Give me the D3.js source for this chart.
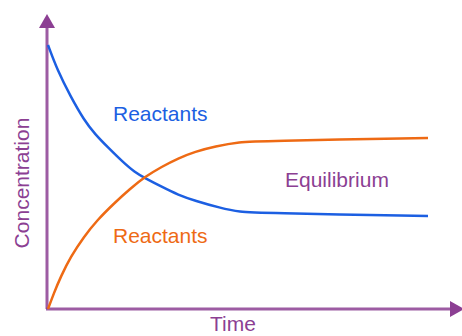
<!DOCTYPE html>
<html>
<head>
<meta charset="utf-8">
<script src="https://cdn.jsdelivr.net/npm/d3@7"></script>
<style>
  body { margin: 0; background: #fff; }
  text { font-family: "Liberation Sans", Arial, Helvetica, sans-serif; }
</style>
</head>
<body>
<div id="chart"></div>
<script>
// Values (time 0..10, concentration 0..1)
const reactantTime = [0, 0.245, 0.597, 0.947, 1.237, 1.587, 1.939, 2.289, 2.553, 2.992, 3.429, 3.868, 4.526, 5.053, 5.579, 10];
const reactantConc = [1.0, 0.905, 0.804, 0.716, 0.662, 0.611, 0.561, 0.517, 0.496, 0.463, 0.432, 0.410, 0.383, 0.367, 0.364, 0.352];
const productTime  = [0, 0.158, 0.334, 0.597, 0.947, 1.297, 1.737, 2.158, 2.553, 2.992, 3.429, 3.868, 4.395, 5.053, 5.579, 10];
const productConc  = [0, 0.061, 0.122, 0.198, 0.274, 0.337, 0.400, 0.455, 0.501, 0.539, 0.571, 0.596, 0.616, 0.633, 0.636, 0.648];
const labels = ["Reactants", "Reactants", "Equilibrium"];

const width = 462;
const height = 336;

const purple = "#8c3f93";
const blue = "#1c5fe2";
const orange = "#ee6a14";

const svg = d3.select("#chart")
              .append("svg")
              .attr("width", width)
              .attr("height", height);

const x = d3.scaleLinear().domain([0, 10]).range([48, 428]);
const y = d3.scaleLinear().domain([0, 1]).range([309, 45]);

// Axes with arrow heads
const axisX0 = x(0) - 1, axisY0 = y(0);
const xEnd = 450, yEnd = 28;

svg.append("line")
   .attr("x1", axisX0).attr("y1", axisY0)
   .attr("x2", axisX0).attr("y2", yEnd)
   .attr("stroke", purple).attr("stroke-opacity", 0.85).attr("stroke-width", 3);

svg.append("line")
   .attr("x1", axisX0 - 1).attr("y1", axisY0)
   .attr("x2", xEnd).attr("y2", axisY0)
   .attr("stroke", purple).attr("stroke-opacity", 0.85).attr("stroke-width", 3);

svg.append("path")
   .attr("d", `M${axisX0 - 8},${yEnd} L${axisX0 + 8},${yEnd} L${axisX0},${yEnd - 14} Z`)
   .attr("fill", purple);

svg.append("path")
   .attr("d", `M${xEnd},${axisY0 - 8} L${xEnd},${axisY0 + 8} L${xEnd + 14},${axisY0} Z`)
   .attr("fill", purple);

// Curves (basis spline smooths out reading noise)
const line = d3.line()
               .x(d => x(d[0]))
               .y(d => y(d[1]))
               .curve(d3.curveBasis);

svg.append("path")
   .datum(d3.zip(reactantTime, reactantConc))
   .attr("fill", "none")
   .attr("stroke", blue)
   .attr("stroke-width", 2.5)
   .attr("d", line);

svg.append("path")
   .datum(d3.zip(productTime, productConc))
   .attr("fill", "none")
   .attr("stroke", orange)
   .attr("stroke-width", 2.5)
   .attr("d", line);

// Labels
svg.append("text")
   .attr("x", 113).attr("y", 121)
   .attr("font-size", 21)
   .attr("fill", blue)
   .text(labels[0]);

svg.append("text")
   .attr("x", 113).attr("y", 243)
   .attr("font-size", 21)
   .attr("fill", orange)
   .text(labels[1]);

svg.append("text")
   .attr("x", 285).attr("y", 187)
   .attr("font-size", 21)
   .attr("fill", purple)
   .text(labels[2]);

svg.append("text")
   .attr("x", 233).attr("y", 331)
   .attr("text-anchor", "middle")
   .attr("font-size", 21)
   .attr("fill", purple)
   .text("Time");

svg.append("text")
   .attr("transform", "translate(29,183) rotate(-90)")
   .attr("text-anchor", "middle")
   .attr("font-size", 21)
   .attr("fill", purple)
   .text("Concentration");
</script>
</body>
</html>
